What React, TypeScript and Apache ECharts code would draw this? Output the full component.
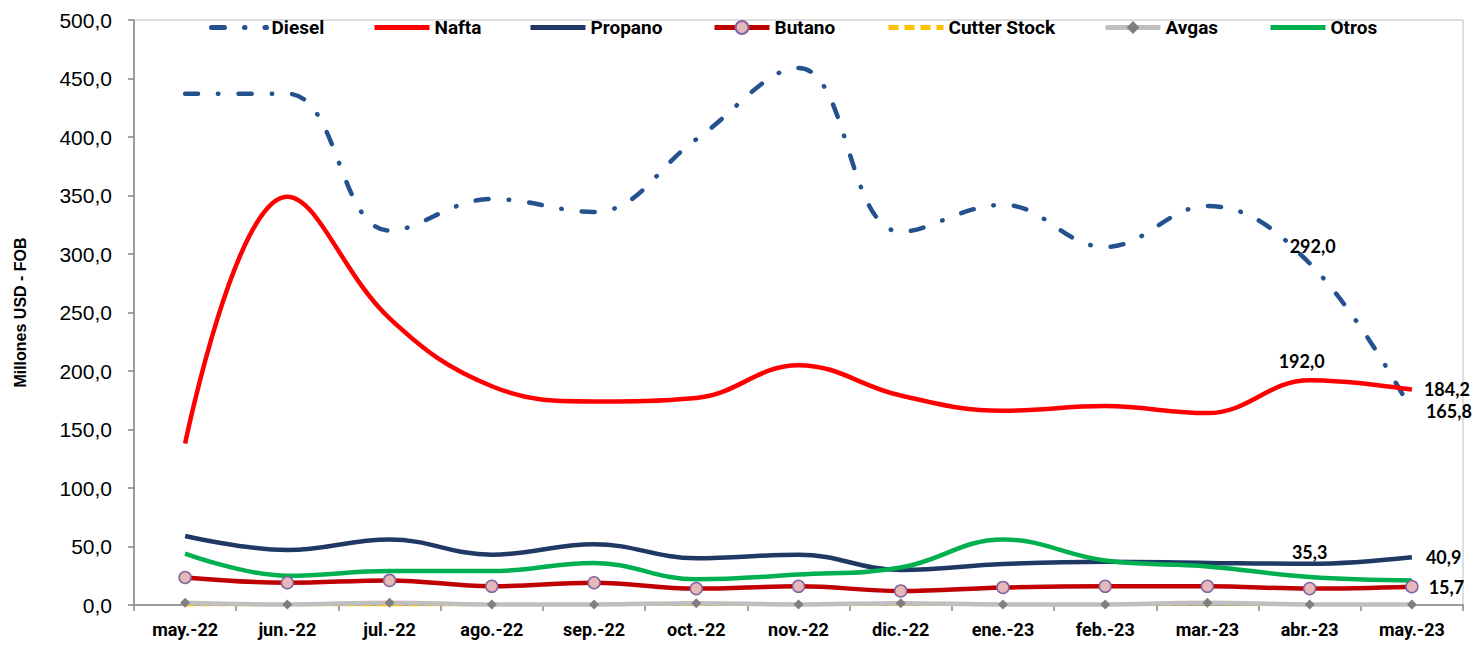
import React, { useEffect, useRef } from "react";
import * as echarts from "echarts";

const categories = ["may.-22","jun.-22","jul.-22","ago.-22","sep.-22","oct.-22","nov.-22","dic.-22","ene.-23","feb.-23","mar.-23","abr.-23","may.-23"];
const diesel = [437, 437, 320, 347, 336, 398, 459, 319, 342, 306, 341, 292.0, 165.8];
const nafta = [138, 349, 245, 187, 174, 177, 205, 179, 166, 170, 164, 192.0, 184.2];
const propano = [59, 47, 56, 43, 52, 40, 43, 30, 35, 37, 36, 35.3, 40.9];
const butano = [23.5, 19, 21, 16, 19, 14, 16, 12, 15, 16, 16, 14, 15.7];
const cutterStock = [0, 0, 0, 0, 0, 0.5, 0, 0.5, 0, 0, 1, 0, 0];
const avgas = [2, 0.5, 2, 0.5, 0.5, 1.5, 0.5, 1.5, 0.5, 0.5, 2, 0.5, 0.5];
const otros = [44, 25, 29, 29, 36, 22, 26, 32, 56, 38, 33, 24, 21];

const fmt = (v: number) => v.toFixed(1).replace(".", ",");
const NARROW = "'Liberation Sans Narrow', 'Arial Narrow', Roboto, sans-serif";
const LBL = { fontFamily: "Lato, 'Noto Sans', sans-serif", fontWeight: "bold" as const, fontSize: 18, color: "#000" };

function withLabels(values: number[], labels: Record<number, any>, hideSymbol: boolean) {
  return values.map((v, i) => {
    if (!labels[i]) return v;
    const item: any = { value: v, label: { show: true, formatter: fmt(v), ...LBL, ...labels[i] } };
    if (hideSymbol) {
      item.symbol = "circle";
      item.symbolSize = 0.1;
      item.itemStyle = { color: "rgba(0,0,0,0)", borderWidth: 0 };
    }
    return item;
  });
}

export default function App() {
  const ref = useRef<HTMLDivElement>(null);
  useEffect(() => {
    const chart = echarts.init(ref.current!, null, { renderer: "svg" });
    const legendPos: [string, number, boolean][] = [
      ["Diesel", 209, false], ["Nafta", 372, false], ["Propano", 528, false], ["Butano", 712, true],
      ["Cutter Stock", 886, false], ["Avgas", 1103, true], ["Otros", 1268, false],
    ];
    chart.setOption({
      animation: false,
      backgroundColor: "#fff",
      legend: legendPos.map(([n, x, marker]) => ({
        data: [n], left: x, top: 18, padding: 0, itemWidth: 55, itemHeight: 16, itemGap: 0,
        lineStyle: { width: 5 },
        itemStyle: marker ? {} : { color: "rgba(0,0,0,0)", borderWidth: 0 },
        textStyle: { fontFamily: NARROW, fontWeight: "bold", fontSize: 19, color: "#000" },
      })),
      grid: { left: 134, right: 9, top: 20, bottom: 44, show: true, borderColor: "#bfbfbf", borderWidth: 1, containLabel: false },
      xAxis: {
        type: "category", data: categories, boundaryGap: true,
        axisLine: { lineStyle: { color: "#868686", width: 1.5 } },
        axisTick: { show: true, length: 6, lineStyle: { color: "#868686", width: 1.5 } },
        axisLabel: { margin: 15, fontFamily: NARROW, fontWeight: "bold", fontSize: 18, color: "#000" },
        splitLine: { show: false },
      },
      yAxis: {
        type: "value", min: 0, max: 500, interval: 50,
        name: "Millones USD - FOB", nameLocation: "middle", nameGap: 106,
        nameTextStyle: { fontFamily: "'Liberation Sans', Arial, sans-serif", fontWeight: "bold", fontSize: 16, color: "#000" },
        axisLine: { show: true, lineStyle: { color: "#868686", width: 1.5 } },
        axisTick: { show: true, length: 6, lineStyle: { color: "#868686", width: 1.5 } },
        axisLabel: { formatter: fmt, margin: 22, fontFamily: "'Liberation Sans', Arial, sans-serif", fontSize: 21, color: "#000" },
        splitLine: { show: false },
      },
      series: [
        {
          name: "Diesel", type: "line", smooth: 0.4, symbol: "none",
          lineStyle: { color: "#24528f", width: 4.5, type: [13, 20, 0.5, 20], cap: "round" },
          itemStyle: { color: "#24528f" },
          data: withLabels(diesel, { 11: { position: "top", distance: 8, offset: [3, 0] }, 12: { position: "right", distance: 14 } }, true),
        },
        {
          name: "Nafta", type: "line", smooth: 0.4, symbol: "none",
          lineStyle: { color: "#ff0000", width: 4.5 }, itemStyle: { color: "#ff0000" },
          data: withLabels(nafta, { 11: { position: "top", distance: 10, offset: [-8, 0] }, 12: { position: "right", distance: 12 } }, true),
        },
        {
          name: "Propano", type: "line", smooth: 0.4, symbol: "none",
          lineStyle: { color: "#1f3864", width: 4.5 }, itemStyle: { color: "#1f3864" },
          data: withLabels(propano, { 11: { position: "top", distance: 3 }, 12: { position: "right", distance: 14 } }, true),
        },
        {
          name: "Butano", type: "line", smooth: 0.4, symbol: "circle", symbolSize: 12, showSymbol: true,
          lineStyle: { color: "#c00000", width: 4.5 },
          itemStyle: { color: "#e6b8b7", borderColor: "#8064a2", borderWidth: 1.5 },
          data: withLabels(butano, { 12: { position: "right", distance: 10 } }, false),
        },
        {
          name: "Cutter Stock", type: "line", smooth: 0.4, symbol: "none",
          lineStyle: { color: "#ffc000", width: 3, type: [10, 6] }, itemStyle: { color: "#ffc000" },
          data: cutterStock,
        },
        {
          name: "Avgas", type: "line", smooth: 0.4, symbol: "diamond", symbolSize: 10, showSymbol: true,
          lineStyle: { color: "#bfbfbf", width: 4.5 }, itemStyle: { color: "#7f7f7f" },
          data: avgas,
        },
        {
          name: "Otros", type: "line", smooth: 0.4, symbol: "none",
          lineStyle: { color: "#00b050", width: 4.5 }, itemStyle: { color: "#00b050" },
          data: otros,
        },
      ],
    });
    return () => chart.dispose();
  }, []);
  return <div ref={ref} style={{ width: 1472, height: 649, position: "absolute", left: 0, top: 0 }} />;
}
